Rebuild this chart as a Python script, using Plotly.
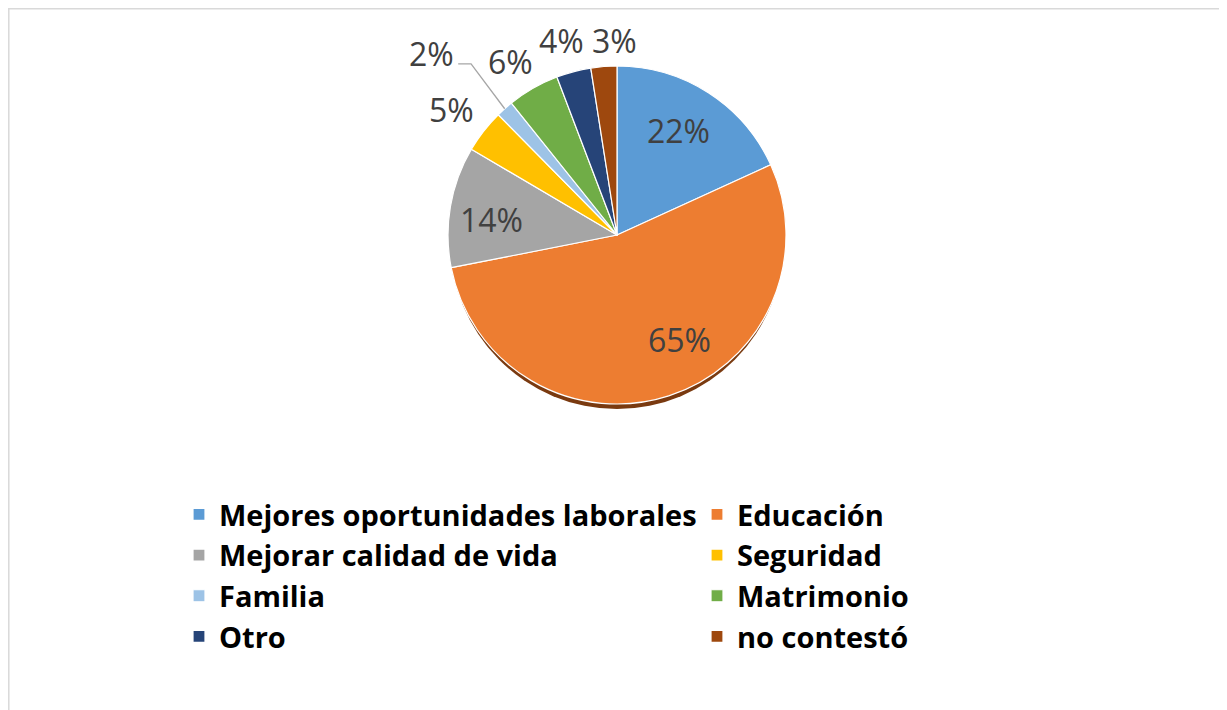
import plotly.graph_objects as go
import numpy as np

categories = ["Mejores oportunidades laborales", "Educación", "Mejorar calidad de vida",
              "Seguridad", "Familia", "Matrimonio", "Otro", "no contestó"]
values = [22, 65, 14, 5, 2, 6, 4, 3]
label_text = ["22%", "65%", "14%", "5%", "2%", "6%", "4%", "3%"]
colors = ["#5B9BD5", "#ED7D31", "#A5A5A5", "#FFC000", "#9DC3E6", "#70AD47", "#264478", "#9E480E"]

# label placement style: radius factor and angular offset (deg) per slice
lab_rf = [0.718, 0.72, 0.745, 1.23, 1.538, 1.206, 1.197, 1.151]
lab_da = [-2.5, -13.3, -2.8, -0.9, -4.0, -1.9, -1.0, 3.6]

W, H = 1227, 710
OFF = 8  # page body margin
cx, cy, r = 617 - OFF, 235 - OFF, 169


def px_to_paper(x, y):
    return x / W, 1 - y / H


fig = go.Figure()
fig.add_trace(go.Pie(
    labels=categories, values=values, sort=False, direction="clockwise", rotation=0,
    marker=dict(colors=colors, line=dict(color="white", width=1.2)),
    textinfo="none", automargin=False,
    domain=dict(x=[(cx - r) / W, (cx + r) / W], y=[1 - (cy + r) / H, 1 - (cy - r) / H]),
    hoverinfo="label+percent", showlegend=True,
))

# slice mid angles (clockwise from 12 o'clock), derived from values
vals = np.array(values, dtype=float)
cum = np.cumsum(vals) / vals.sum() * 360
start = np.concatenate([[0], cum[:-1]])
mid = (start + cum) / 2

lab_xy = []
for i, t in enumerate(label_text):
    a = np.radians(mid[i] + lab_da[i])
    lx = cx + r * lab_rf[i] * np.sin(a)
    ly = cy - r * lab_rf[i] * np.cos(a)
    lab_xy.append((lx, ly))
    px, py = px_to_paper(lx, ly)
    fig.add_annotation(x=px, y=py, xref="paper", yref="paper", text=t, showarrow=False,
                       font=dict(family="Open Sans", size=32, color="#404040"),
                       xanchor="center", yanchor="middle")

# leader line for the "Familia" label
i = 4
a = np.radians(mid[i])
p0 = (cx + r * np.sin(a), cy - r * np.cos(a))
p1 = (lab_xy[i][0] + 40, lab_xy[i][1] + 10.5)
p2 = (lab_xy[i][0] + 27, lab_xy[i][1] + 10.5)
path = "M {:.4f} {:.4f} L {:.4f} {:.4f} L {:.4f} {:.4f}".format(
    *px_to_paper(*p0), *px_to_paper(*p1), *px_to_paper(*p2))
fig.add_shape(type="path", xref="paper", yref="paper", path=path,
              line=dict(color="#A6A6A6", width=1.3))

# shadow under pie
sh = 5
fig.add_shape(type="circle", xref="paper", yref="paper", layer="below",
              x0=(cx - r + 2) / W, x1=(cx + r - 2) / W,
              y0=1 - (cy + r + sh) / H, y1=1 - (cy - r + sh) / H,
              fillcolor="#7A3A10", line=dict(width=0))

# frame lines
fig.add_shape(type="line", xref="paper", yref="paper", x0=0, x1=1, y0=1 - 0.8 / H, y1=1 - 0.8 / H,
              line=dict(color="#D9D9D9", width=1.5))
fig.add_shape(type="line", xref="paper", yref="paper", x0=0.8 / W, x1=0.8 / W, y0=0, y1=1,
              line=dict(color="#D9D9D9", width=1.5))

fig.update_layout(
    width=W, height=H, margin=dict(l=0, r=0, t=0, b=0, autoexpand=False),
    paper_bgcolor="white", plot_bgcolor="white",
    legend=dict(orientation="h", x=171 / W, xanchor="left", y=1 - 481 / H, yanchor="top",
                entrywidth=473, entrywidthmode="pixels",
                font=dict(family="Open Sans", size=29, color="black", weight="bold"),
                traceorder="normal"),
)

fig.write_html("out.html")
